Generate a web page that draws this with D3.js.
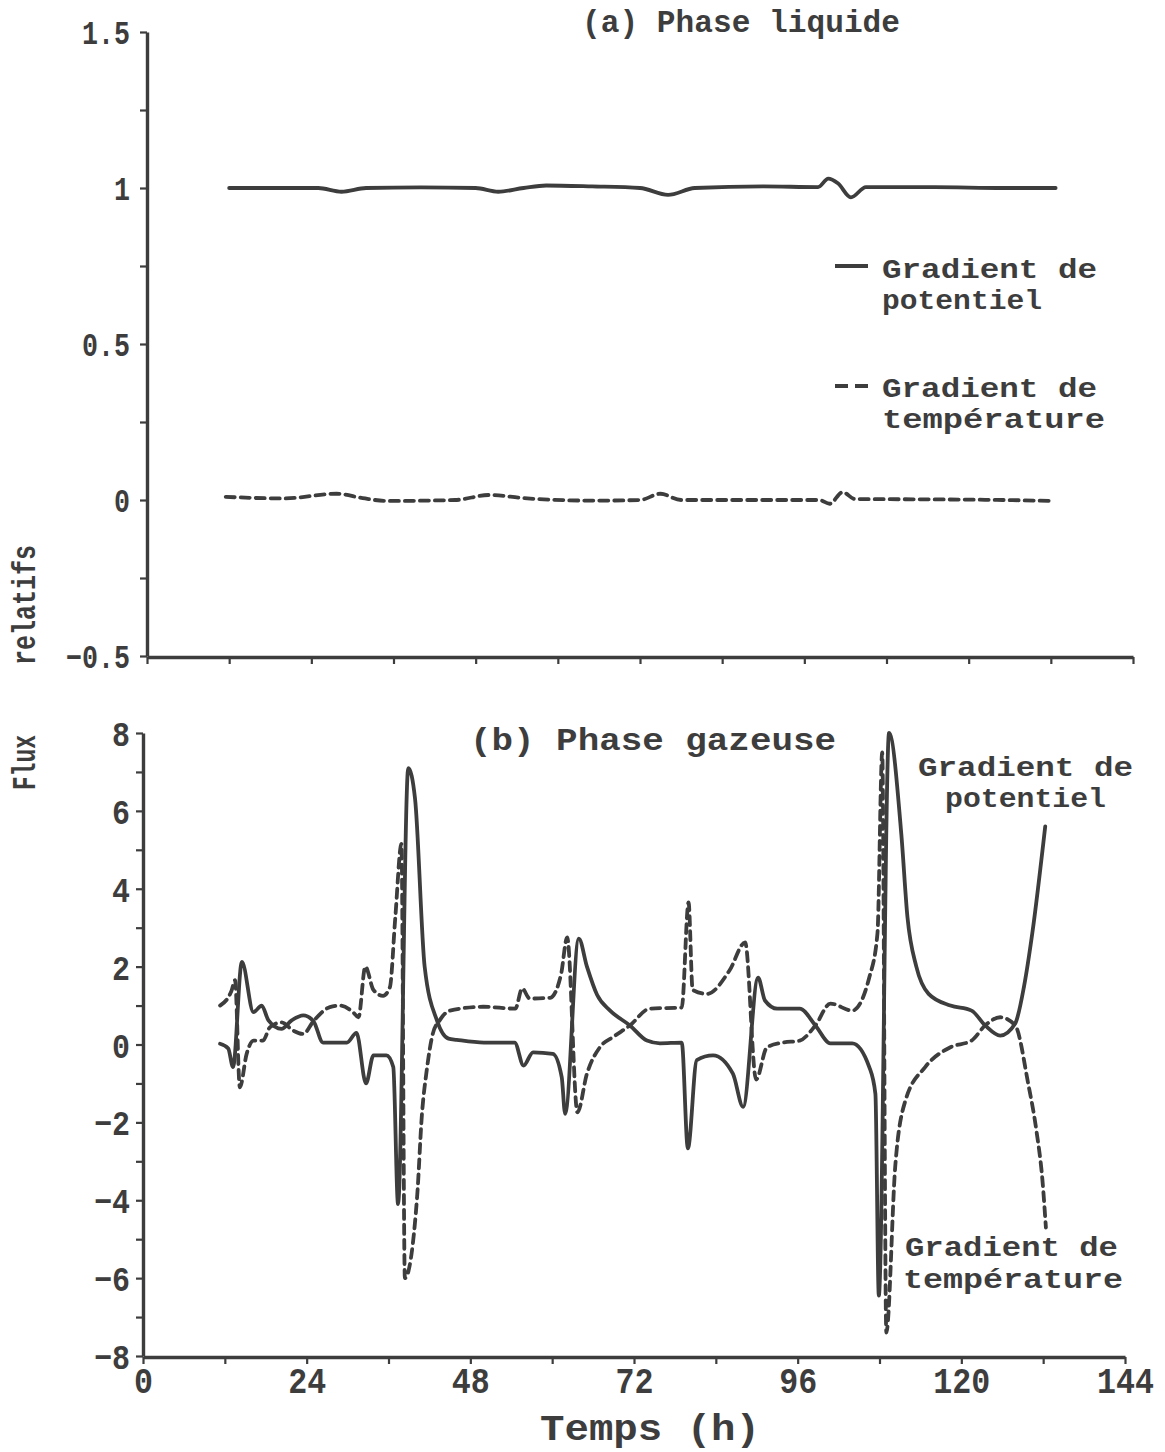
<!DOCTYPE html>
<html><head><meta charset="utf-8">
<script src="https://cdn.jsdelivr.net/npm/d3@7"></script>
<style>
body{margin:0;background:#fff;}
text{font-family:"Liberation Mono","DejaVu Sans Mono",monospace;font-weight:bold;fill:#3d3d3d;}
</style></head><body>
<script>
// ---------- DATA ----------
// (a) Phase liquide
const liqPotT = [12,20,25,28.4,32,40,48,51.3,55,58.3,65,72,76.1,80,90,98,99.5,100.9,102.8,105,115,125,132.7];
const liqPotV = [1.0,1.0,1.0,0.988,1.0,1.002,1.0,0.988,1.0,1.008,1.005,1.0,0.978,1.0,1.005,1.003,1.03,1.015,0.97,1.003,1.003,1.0,1.0];
const liqTempT = [11.5,20,27.7,31.5,35,45,50,55,65,72,75,78,90,98.2,99.7,101.6,103.4,115,125,132.5];
const liqTempV = [0.01,0.005,0.02,0.006,-0.003,0.0,0.016,0.006,-0.002,0.0,0.02,0.0,0.0,0.0,-0.012,0.025,0.003,0.002,0.0,-0.003];

// (b) Phase gazeuse
const gazPotT = [11.3,12.5,13.2,14.5,16.2,17.4,18.4,20.3,21.8,23.5,25,26.4,29.9,31.3,32.7,33.8,35.7,36.7,37.4,38.9,39.9,41.3,43.1,44.8,46,50,54.5,55.8,57.2,60.1,61.4,61.9,63.9,65.1,66.6,68.5,71.4,73.9,75.8,79,79.9,81.2,83.6,86.5,88,90.2,91.2,93,96.3,98.6,100.8,104,106.5,107.4,107.9,109.4,111.2,112.1,113.4,115.2,118.4,121.5,123.5,125.7,127.9,129.2,130.4,132.3];
const gazPotV = [0.02,-0.1,-0.58,2.12,0.83,1.0,0.62,0.4,0.62,0.75,0.6,0.05,0.05,0.3,-1.0,-0.28,-0.28,-0.58,-4.1,7.1,6.3,2.0,0.62,0.15,0.12,0.05,0.05,-0.54,-0.2,-0.24,-0.84,-1.78,2.72,2.0,1.27,0.87,0.49,0.1,0.03,0.05,-2.67,-0.4,-0.28,-0.75,-1.6,1.72,1.13,0.92,0.92,0.49,0.03,0.03,-0.58,-1.27,-6.45,8.0,5.4,3.27,2.0,1.3,1.0,0.87,0.49,0.23,0.54,1.5,2.85,5.6];
const gazTempT = [11.3,13.0,13.5,14.2,15.2,16.2,17.6,18.6,20.3,22,23.5,25,27.4,28.9,30.8,31.6,32.6,33.8,35.2,36.2,37.0,37.9,38.4,40.2,40.9,41.6,42.5,43.5,45,49.9,54.6,55.6,56.7,59.7,61.3,62.2,63.7,65.1,67,69,71.4,74.3,79,80,80.6,82.7,86,88.3,89.9,91.5,93.9,96.3,98.6,100.8,104,106.5,107.7,108.4,109.0,110.3,111.8,114.7,118.4,121.5,123.5,125.7,127.9,129.8,131,131.9,132.4];
const gazTempV = [1.0,1.39,1.65,-1.1,-0.24,0.1,0.1,0.44,0.57,0.36,0.27,0.6,0.96,1.0,0.83,0.7,2.0,1.4,1.25,1.47,3.27,5.15,-6.0,-3.9,-1.8,-0.67,0.28,0.62,0.87,0.97,0.92,1.44,1.18,1.2,1.8,2.75,-1.74,-0.75,-0.07,0.2,0.49,0.92,0.95,3.65,1.4,1.3,1.9,2.62,-0.9,-0.07,0.05,0.1,0.49,1.05,0.87,1.72,2.85,7.5,-7.4,-3.15,-1.44,-0.58,-0.07,0.1,0.49,0.7,0.49,-1.0,-2.2,-3.5,-4.7];

// ticks
const xTicks = [0,12,24,36,48,60,72,84,96,108,120,132,144];
const xLabelVals = [0,24,48,72,96,120,144];
const topYTicks = [-0.5,-0.25,0,0.25,0.5,0.75,1,1.25,1.5];
const topYLabelVals = [-0.5,0,0.5,1,1.5];
const topYLabels = ["\u22120.5","0","0.5","1","1.5"];
const botYTicks = [-8,-7,-6,-5,-4,-3,-2,-1,0,1,2,3,4,5,6,7,8];
const botYLabelVals = [-8,-6,-4,-2,0,2,4,6,8];
const botYLabels = ["\u22128","\u22126","\u22124","\u22122","0","2","4","6","8"];

// ---------- DRAW ----------
const W=1165,H=1452, ink="#3d3d3d";
const svg=d3.select("body").append("svg").attr("width",W).attr("height",H);

const xTop=d3.scaleLinear().domain([0,144]).range([147,1133]);
const yTop=d3.scaleLinear().domain([-0.5,1.5]).range([656,32]);
const xBot=d3.scaleLinear().domain([0,144]).range([143,1125]);
const yBot=d3.scaleLinear().domain([-8,8]).range([1356,733]);

function styleAxis(g){
  g.select(".domain").attr("stroke",ink).attr("stroke-width",3.4);
  g.selectAll(".tick line").attr("stroke",ink).attr("stroke-width",2.2);
  g.selectAll(".tick text").attr("fill",ink).style("font-family",'"Liberation Mono",monospace').style("font-weight","bold");
}
function fitTicks(g,size,perChar){
  g.selectAll(".tick text").style("font-size",size+"px").each(function(){
    const s=d3.select(this).text();
    if(s.length){d3.select(this).attr("textLength",s.length*perChar).attr("lengthAdjust","spacingAndGlyphs");}
  });
}

// top panel axes
const gTX=svg.append("g").attr("transform","translate(0,657)")
  .call(d3.axisBottom(xTop).tickValues(xTicks).tickSize(7).tickSizeOuter(0).tickFormat(""));
styleAxis(gTX);
const gTY=svg.append("g").attr("transform","translate(147,0)")
  .call(d3.axisLeft(yTop).tickValues(topYTicks).tickSize(7).tickSizeOuter(0).tickPadding(10)
    .tickFormat(d=>{const i=topYLabelVals.indexOf(d);return i>=0?topYLabels[i]:"";}));
styleAxis(gTY);
fitTicks(gTY,33,16);
gTY.selectAll(".tick text").attr("dy","0.36em");

// bottom panel axes
const gBX=svg.append("g").attr("transform","translate(0,1357)")
  .call(d3.axisBottom(xBot).tickValues(xTicks).tickSize(7).tickSizeOuter(0)
    .tickFormat(d=>xLabelVals.includes(d)?String(d):""));
styleAxis(gBX);
fitTicks(gBX,36,19);
gBX.selectAll(".tick text").attr("dy",null).attr("y",36);
const gBY=svg.append("g").attr("transform","translate(143,0)")
  .call(d3.axisLeft(yBot).tickValues(botYTicks).tickSize(7).tickSizeOuter(0).tickPadding(6)
    .tickFormat(d=>{const i=botYLabelVals.indexOf(d);return i>=0?botYLabels[i]:"";}));
styleAxis(gBY);
fitTicks(gBY,35,18);
gBY.selectAll(".tick text").attr("dy","0.36em");

// lines
function drawLine(xs,ys,T,V,dashed){
  const data=T.map((t,i)=>[t,V[i]]);
  svg.append("path").datum(data)
    .attr("fill","none").attr("stroke",ink).attr("stroke-width",3.8)
    .attr("stroke-linejoin","round").attr("stroke-linecap","round")
    .attr("stroke-dasharray",dashed?"9,6":null)
    .attr("d",d3.line().x(d=>xs(d[0])).y(d=>ys(d[1])).curve(d3.curveMonotoneX));
}
drawLine(xTop,yTop,liqPotT,liqPotV,false);
drawLine(xTop,yTop,liqTempT,liqTempV,true);
drawLine(xBot,yBot,gazPotT,gazPotV,false);
drawLine(xBot,yBot,gazTempT,gazTempV,true);

// texts
function txt(s,x,y,size,len,anchor){
  const t=svg.append("text").attr("x",x).attr("y",y).style("font-size",size+"px").text(s)
    .attr("text-anchor",anchor||"start");
  if(len){t.attr("textLength",len).attr("lengthAdjust","spacingAndGlyphs");}
  return t;
}
txt("(a) Phase liquide",582,32,32,318);
txt("(b)  Phase gazeuse",470,750,32,366);
// legend top
svg.append("line").attr("x1",835).attr("x2",868).attr("y1",266).attr("y2",266).attr("stroke",ink).attr("stroke-width",3.8);
svg.append("line").attr("x1",835).attr("x2",868).attr("y1",386).attr("y2",386).attr("stroke",ink).attr("stroke-width",3.8).attr("stroke-dasharray","13,7");
txt("Gradient de",882,278,28,215);
txt("potentiel",882,309,28,160);
txt("Gradient de",882,397,28,215);
txt("température",882,428,28,223);
// bottom labels
txt("Gradient de",918,776,28,215);
txt("potentiel",945,807,28,161);
txt("Gradient de",905,1256,28,213);
txt("température",903,1288,28,220);
// axis titles
txt("Temps (h)",540,1440,36,220);
svg.append("text").attr("transform","translate(35,665) rotate(-90)").style("font-size","34px")
  .attr("textLength",120).attr("lengthAdjust","spacingAndGlyphs").text("relatifs");
svg.append("text").attr("transform","translate(35,790) rotate(-90)").style("font-size","34px")
  .attr("textLength",55).attr("lengthAdjust","spacingAndGlyphs").text("Flux");
</script>
</body></html>
